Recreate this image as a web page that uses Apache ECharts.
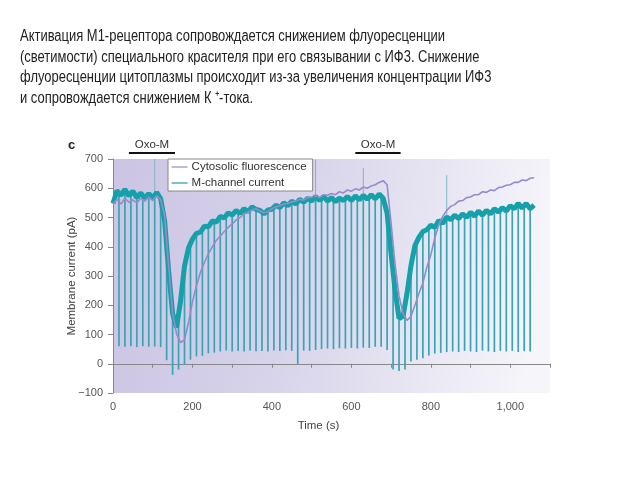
<!DOCTYPE html>
<html>
<head>
<meta charset="utf-8">
<script src="https://cdn.jsdelivr.net/npm/echarts@6/dist/echarts.min.js"></script>
<style>
html,body{margin:0;padding:0;background:#fff;}
#chart{width:640px;height:480px;}
</style>
</head>
<body>
<div id="chart"></div>
<script>
// ---- data ----
const titleLines = [
  'Активация М1-рецептора сопровождается снижением флуоресценции',
  '(светимости) специального красителя при его связывании с ИФ3. Снижение',
  'флуоресценции цитоплазмы происходит из-за увеличения концентрации ИФ3',
  'и сопровождается снижением К ⁺-тока.'
];
const time = [0,10,20,30,40,50,60,70,80,90,100,110,120,130,140,150,160,170,180,190,200,210,220,230,240,250,260,270,280,290,300,310,320,330,340,350,360,370,380,390,400,410,420,430,440,450,460,470,480,490,500,510,520,530,540,550,560,570,580,590,600,610,620,630,640,650,660,670,680,690,700,710,720,730,740,750,760,770,780,790,800,810,820,830,840,850,860,870,880,890,900,910,920,930,940,950,960,970,980,990,1000,1010,1020,1030,1040,1050,1060];
const current = [548,592,576,596,574,590,568,584,566,582,566,586,564,488,318,172,124,214,334,396,426,446,450,470,468,488,484,504,498,516,508,524,514,530,520,536,528,524,512,526,528,542,534,550,540,556,546,562,552,566,556,572,558,572,556,568,554,566,558,572,558,574,560,576,562,578,564,580,566,515,375,252,155,162,240,335,404,432,452,458,474,466,490,480,502,492,508,496,512,500,518,504,522,508,524,512,530,518,534,522,540,530,548,532,548,530,542];
const fluorescence = [545,562,546,566,552,560,550,566,556,570,558,574,562,505,335,175,102,72,82,140,212,266,312,346,376,400,422,436,452,466,478,492,500,512,518,526,530,522,516,520,530,536,540,546,548,554,556,562,560,568,570,574,568,578,576,582,578,588,584,594,590,598,594,604,600,608,612,620,626,612,480,340,232,172,148,162,200,240,276,330,372,430,474,504,524,538,544,556,558,568,570,578,578,588,586,594,592,602,604,610,612,620,620,628,626,634,636];
const spikeTime = [15,30,45,60,75,90,105,120,135,150,165,180,195,210,225,240,255,270,285,300,315,330,345,360,375,390,405,420,435,450,465,480,495,510,525,540,555,570,585,600,615,630,645,660,675,690,705,720,735,750,765,780,795,810,825,840,855,870,885,900,915,930,945,960,975,990,1005,1020,1035,1050];
const spikeTop = [585,590,580,575,578,575,578,565,400,175,160,335,410,445,460,472,485,498,508,515,520,522,530,535,525,520,532,540,545,548,555,558,562,565,568,568,563,562,568,568,568,570,570,572,572,500,310,150,200,335,420,450,465,472,485,498,500,502,508,512,512,515,518,522,526,530,536,540,540,535];
const spikeBottom = [60,58,60,57,60,58,59,57,12,-38,-20,-3,14,25,27,36,38,42,45,42,44,42,45,43,44,42,45,44,46,44,0,45,44,47,50,52,50,53,52,54,52,55,54,58,58,47,-20,-25,-20,8,14,19,28,35,37,40,42,40,44,42,40,45,42,40,44,42,44,40,43,42];
const transientTime = [105,510,630,840];
const transientBase = [575,565,570,500];
const transientTop = [700,698,670,645];
const oxoStart = [40,610];
const oxoEnd = [156,724];
const oxoLabel = 'Oxo-M';
const seriesNames = ['Cytosolic fluorescence','M-channel current'];
const xLabel = 'Time (s)';
const yLabel = 'Membrane current (pA)';

// ---- chart ----
const chart = echarts.init(document.getElementById('chart'));
const FONT = '"Liberation Sans", Arial, sans-serif';
const TEAL = '#15a0aa';
const SPIKE = '#36a6b6';
const PURPLE = '#9a89c8';

const curData = time.map((t,i)=>[t,current[i]]);
const fluData = time.map((t,i)=>[t,fluorescence[i]]);
const spikeData = spikeTime.map((t,i)=>[t,spikeTop[i],spikeBottom[i]]);
const transData = transientTime.map((t,i)=>[t,transientBase[i],transientTop[i]]);
const oxoData = oxoStart.map((s,i)=>[s,oxoEnd[i]]);

function vline(color,width){
  return function(params, api){
    const a = api.coord([api.value(0), api.value(1)]);
    const b = api.coord([api.value(0), api.value(2)]);
    return {type:'line', shape:{x1:a[0],y1:a[1],x2:b[0],y2:b[1]}, style:{stroke:color,lineWidth:width}};
  };
}

// title lines as condensed text
const titleGraphics = titleLines.map((line,i)=>({
  type:'text', x:20, y:36.5 + i*20.6, scaleX:0.81, scaleY:1,
  style:{text:line, font:'16px '+FONT, fill:'#222', textVerticalAlign:'middle', textAlign:'left'}
}));

chart.setOption({
  animation:false,
  textStyle:{fontFamily:FONT},
  graphic:titleGraphics.concat([
    {type:'text', left:68, top:139, style:{text:'c', font:'bold 13px '+FONT, fill:'#222'}}
  ]),
  legend:{
    data:seriesNames,
    orient:'vertical',
    left:168, top:159,
    backgroundColor:'#fff',
    borderColor:'#888', borderWidth:1,
    padding:[2,6,2,3],
    itemGap:4, itemWidth:16, itemHeight:11,
    textStyle:{fontFamily:FONT,fontSize:11.5,color:'#333',padding:[0,0,0,-1]},
    lineStyle:{width:1.2},
    itemStyle:{opacity:0}
  },
  grid:{
    left:113, right:90, top:159, bottom:87,
    show:true, borderWidth:0,
    backgroundColor: new echarts.graphic.LinearGradient(0,0,1,0.3,[
      {offset:0,color:'#cbc4e3'},
      {offset:0.45,color:'#d8d4eb'},
      {offset:0.8,color:'#ebe9f4'},
      {offset:1,color:'#f6f5fa'}
    ])
  },
  xAxis:{
    type:'value', min:0, max:1100, interval:100,
    name:xLabel, nameLocation:'middle', nameGap:27,
    nameTextStyle:{fontFamily:FONT,fontSize:11.5,color:'#444',padding:[0,26,0,0]},
    axisLine:{show:true,lineStyle:{color:'#888',width:1}},
    axisTick:{show:true,length:4,lineStyle:{color:'#888'}},
    axisLabel:{margin:8,fontFamily:FONT,fontSize:11,color:'#555',
      formatter:v=> (v%200===0 && v<=1000) ? v.toLocaleString('en-US') : ''},
    splitLine:{show:false}
  },
  yAxis:{
    type:'value', min:-100, max:700, interval:100,
    name:yLabel, nameLocation:'middle', nameGap:35, nameRotate:90,
    nameMoveOverlap:false,
    nameTextStyle:{fontFamily:FONT,fontSize:11.5,color:'#444'},
    axisLine:{show:true,lineStyle:{color:'#888',width:1}},
    axisTick:{show:true,length:5,lineStyle:{color:'#888'}},
    axisLabel:{margin:10,fontFamily:FONT,fontSize:11,color:'#555',
      formatter:v=> v<0 ? '\u2212'+Math.abs(v) : String(v)},
    splitLine:{show:false}
  },
  series:[
    {type:'custom', name:'transients', data:transData, renderItem:vline('#7fb6c4',1), z:1, silent:true},
    {type:'custom', name:'spikes', data:spikeData, renderItem:vline(SPIKE,1.7), z:2, silent:true,
      encode:{x:0,y:[1,2]}},
    {type:'line', name:seriesNames[1], data:curData, showSymbol:false, symbol:'none',
      lineStyle:{color:TEAL,width:5}, itemStyle:{color:TEAL}, z:3},
    {type:'line', name:seriesNames[0], data:fluData, showSymbol:false, symbol:'none',
      lineStyle:{color:PURPLE,width:1.6}, itemStyle:{color:PURPLE}, z:4},
    {type:'custom', name:'oxo', data:oxoData, clip:false, silent:true, z:5,
      encode:{x:[0,1]},
      renderItem:function(params, api){
        const a = api.coord([api.value(0), 700]);
        const b = api.coord([api.value(1), 700]);
        const y = a[1] - 6;
        return {type:'group', children:[
          {type:'line', shape:{x1:a[0],y1:y,x2:b[0],y2:y}, style:{stroke:'#111',lineWidth:2}},
          {type:'text', x:(a[0]+b[0])/2, y:y-2, style:{text:oxoLabel, font:'11.5px '+FONT, fill:'#333', textAlign:'center', textVerticalAlign:'bottom'}}
        ]};
      }}
  ]
});
</script>
</body>
</html>
